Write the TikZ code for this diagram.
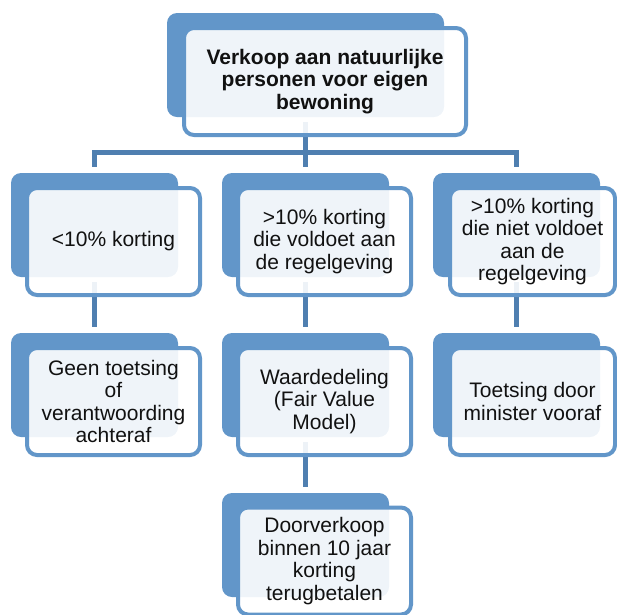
\documentclass[tikz,border=0pt]{standalone}
\usepackage{fontspec}
\setmainfont{Liberation Sans}
\usetikzlibrary{backgrounds}
\definecolor{boxblue}{HTML}{6296C9}
\definecolor{linkblue}{HTML}{4F7FB0}
\definecolor{inktext}{HTML}{111111}
\tikzset{
  backbox/.style={fill=boxblue, draw=none, rounded corners=10pt, inner sep=0pt,
    minimum width=167pt, minimum height=104pt},
  frontbox/.style={draw=boxblue, line width=4pt, fill=white, fill opacity=0.9,
    text opacity=1, text=inktext, rounded corners=10pt, inner sep=0pt, align=center,
    minimum width=173pt, minimum height=107pt,
    font=\fontsize{21}{22.5}\selectfont},
  link/.style={draw=linkblue, line width=5pt, shorten <=5pt, shorten >=6pt}
}
\begin{document}
\begin{tikzpicture}[x=1pt,y=1pt]
\clip (0,0) rectangle (617,-614);

% back plates
\node[backbox, minimum width=277pt] (tb) at (305.5,-65) {};
\node[backbox] (ab) at (94.5,-225) {};
\node[backbox] (bb) at (305.5,-225) {};
\node[backbox] (cb) at (516.5,-225) {};
\node[backbox] (db) at (94.5,-385) {};
\node[backbox] (eb) at (305.5,-385) {};
\node[backbox] (fb) at (516.5,-385) {};
\node[backbox] (gb) at (305.5,-545) {};

% connectors, beneath the plates
\coordinate (bus) at (305.5,-152);
\begin{scope}[on background layer]
  \path[link] (tb.south) -- (bus) -| (ab.north);
  \path[link] (tb.south) -- (bus) -| (cb.north);
  \path[link] (tb.south) -- (bb.north);
  \path[link] (ab.south) -- (db.north);
  \path[link] (bb.south) -- (eb.north);
  \path[link] (cb.south) -- (fb.north);
  \path[link] (eb.south) -- (gb.north);
\end{scope}

% front cards
\node[frontbox, minimum width=282pt, font=\fontsize{21}{22.5}\selectfont\bfseries]
  (tf) at (325,-81.5) {Verkoop aan natuurlijke\\personen voor eigen\\bewoning};
\node[frontbox] (af) at (113.5,-241.5) {<10\% korting};
\node[frontbox] (bf) at (324.5,-241.5) {>10\% korting\\die voldoet aan\\de regelgeving};
\node[frontbox, minimum width=165pt] (cf) at (532.5,-241.5)
  {>10\% korting\\die niet voldoet\\aan de\\regelgeving};
\node[frontbox] (df) at (113.5,-401.5) {Geen toetsing\\of\\verantwoording\\achteraf};
\node[frontbox] (ef) at (324.5,-401.5) {Waardedeling\\(Fair Value\\Model)};
\node[frontbox, minimum width=165pt] (ff) at (532.5,-401.5) {Toetsing door\\minister vooraf};
\node[frontbox] (gf) at (324.5,-561) {Doorverkoop\\binnen 10 jaar\\korting\\terugbetalen};
\end{tikzpicture}
\end{document}
